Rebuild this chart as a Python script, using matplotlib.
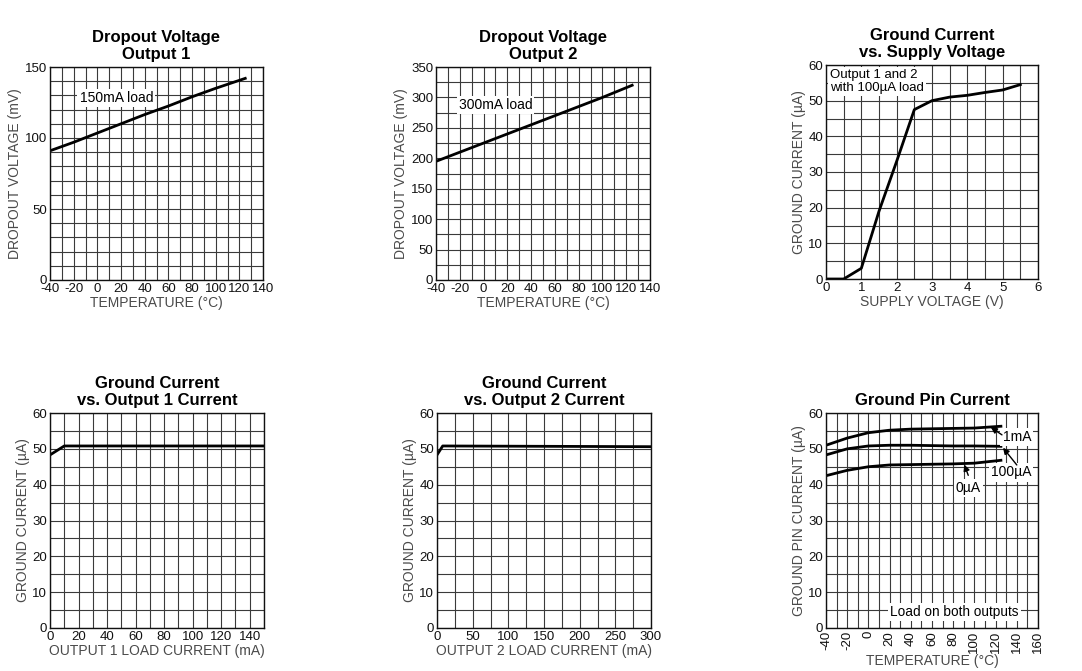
import matplotlib
matplotlib.use('Agg')
import matplotlib.pyplot as plt
import numpy as np

plt.rcParams['font.family'] = ['Liberation Sans', 'DejaVu Sans']
plt.rcParams['axes.unicode_minus'] = False

# --- data ---
# Dropout Voltage, Output 1 (150mA load)
temp1 = [-40, -20, 0, 20, 40, 60, 80, 100, 125]
vdrop1 = [91, 97, 103.5, 110, 116.5, 122.5, 129, 135, 142]

# Dropout Voltage, Output 2 (300mA load)
temp2 = [-40, -20, 0, 20, 40, 60, 80, 100, 125]
vdrop2 = [195, 210, 225, 240, 255, 270, 285, 300, 320]

# Ground current vs supply voltage
vsup = [0, 0.5, 1.0, 1.5, 2.0, 2.5, 3.0, 3.5, 4.0, 4.5, 5.0, 5.5]
ignd_sup = [0, 0, 3, 19, 33, 47.5, 50, 51, 51.5, 52.3, 53, 54.5]

# Ground current vs output 1 / output 2 load
iload1 = [0, 10, 150]
ignd1 = [48.3, 50.8, 50.8]
iload2 = [0, 8, 300]
ignd2 = [48.3, 50.8, 50.6]

# Ground pin current vs temperature
temp6 = [-40, -20, 0, 20, 40, 60, 80, 100, 125]
ignd_1mA = [51, 53, 54.5, 55.2, 55.5, 55.6, 55.7, 55.8, 56.3]
ignd_100uA = [48.3, 50, 50.8, 51, 51, 50.9, 50.8, 50.8, 50.7]
ignd_0uA = [42.5, 44, 45, 45.5, 45.6, 45.7, 45.8, 46, 46.8]

W, H = 1082, 671
fig = plt.figure(figsize=(W / 100, H / 100), dpi=100)


def make_ax(px_left, px_top, px_w, px_h):
    return fig.add_axes([px_left / W, 1 - (px_top + px_h) / H, px_w / W, px_h / H])


def style(ax, title, xlabel, ylabel, xlim, ylim, xmajor, xminor, ymajor, yminor, xrot=0):
    ax.set_xlim(*xlim)
    ax.set_ylim(*ylim)
    ax.set_xticks(xmajor)
    ax.set_xticks(xminor, minor=True)
    ax.set_yticks(ymajor)
    ax.set_yticks(yminor, minor=True)
    ax.grid(True, which='both', color='#3a3a3a', lw=0.8)
    ax.set_axisbelow(True)
    ax.tick_params(which='both', length=0, labelsize=9.5, labelcolor='#111111', pad=2)
    if xrot:
        ax.tick_params(axis='x', labelrotation=xrot)
    for s in ax.spines.values():
        s.set_color('#111111')
        s.set_linewidth(1.0)
    ax.set_title(title, fontsize=12, fontweight='bold', linespacing=1.12, pad=6)
    ax.set_xlabel(xlabel, fontsize=10, color='#4a4a4a', labelpad=1)
    ax.set_ylabel(ylabel, fontsize=10, color='#4a4a4a', labelpad=2)


box = dict(facecolor='white', edgecolor='none', pad=1.5)
arrow = dict(arrowstyle='-|>', color='black', lw=1.0, mutation_scale=9, shrinkA=0, shrinkB=0)

# Panel 1
ax1 = make_ax(50, 67, 213, 213)
ax1.plot(temp1, vdrop1, color='black', lw=2)
style(ax1, 'Dropout Voltage\nOutput 1', 'TEMPERATURE (°C)', 'DROPOUT VOLTAGE (mV)',
      (-40, 140), (0, 150), np.arange(-40, 141, 20), np.arange(-40, 141, 10),
      [0, 50, 100, 150], np.arange(0, 151, 10))
ax1.text(16, 128, '150mA load', ha='center', va='center', fontsize=10, bbox=box)

# Panel 2
ax2 = make_ax(436, 67, 214, 213)
ax2.plot(temp2, vdrop2, color='black', lw=2)
style(ax2, 'Dropout Voltage\nOutput 2', 'TEMPERATURE (°C)', 'DROPOUT VOLTAGE (mV)',
      (-40, 140), (0, 350), np.arange(-40, 141, 20), np.arange(-40, 141, 10),
      np.arange(0, 351, 50), np.arange(0, 351, 25))
ax2.text(10, 288, '300mA load', ha='center', va='center', fontsize=10, bbox=box)

# Panel 3
ax3 = make_ax(826, 65, 212, 214)
ax3.plot(vsup, ignd_sup, color='black', lw=2)
style(ax3, 'Ground Current\nvs. Supply Voltage', 'SUPPLY VOLTAGE (V)', 'GROUND CURRENT (µA)',
      (0, 6), (0, 60), np.arange(0, 7, 1), np.arange(0, 6.01, 0.5),
      np.arange(0, 61, 10), np.arange(0, 61, 5))
ax3.text(0.12, 58.8, 'Output 1 and 2\nwith 100µA load', ha='left', va='top', fontsize=9.5,
         linespacing=1.05, bbox=box)

# Panel 4
ax4 = make_ax(50, 413, 214, 215)
ax4.plot(iload1, ignd1, color='black', lw=2)
style(ax4, 'Ground Current\nvs. Output 1 Current', 'OUTPUT 1 LOAD CURRENT (mA)', 'GROUND CURRENT (µA)',
      (0, 150), (0, 60), np.arange(0, 141, 20), np.arange(0, 151, 10),
      np.arange(0, 61, 10), np.arange(0, 61, 5))

# Panel 5
ax5 = make_ax(437, 413, 214, 215)
ax5.plot(iload2, ignd2, color='black', lw=2)
style(ax5, 'Ground Current\nvs. Output 2 Current', 'OUTPUT 2 LOAD CURRENT (mA)', 'GROUND CURRENT (µA)',
      (0, 300), (0, 60), np.arange(0, 301, 50), np.arange(0, 301, 25),
      np.arange(0, 61, 10), np.arange(0, 61, 5))

# Panel 6
ax6 = make_ax(826, 413, 212, 215)
for ys in (ignd_1mA, ignd_100uA, ignd_0uA):
    ax6.plot(temp6, ys, color='black', lw=2)
style(ax6, 'Ground Pin Current', 'TEMPERATURE (°C)', 'GROUND PIN CURRENT (µA)',
      (-40, 160), (0, 60), np.arange(-40, 161, 20), np.arange(-40, 161, 10),
      np.arange(0, 61, 10), np.arange(0, 61, 5), xrot=90)

# labels and arrows (arrow tail, arrow tip, label centre)
for label, tail, tip, pos in [('1mA', (126, 53.9), (115.5, 56.0), (140, 53.4)),
                              ('100µA', (140, 45.5), (127, 50.3), (134.5, 43.4)),
                              ('0µA', (94.2, 42.6), (90.5, 45.6), (94.2, 39.0))]:
    ax6.text(*pos, label, ha='center', va='center', fontsize=10, bbox=box)
    ax6.annotate('', xy=tip, xytext=tail, arrowprops=arrow)
ax6.text(81, 4.5, 'Load on both outputs', ha='center', va='center', fontsize=9.8, bbox=box)

fig.savefig('out.png', dpi=100, facecolor='white')
